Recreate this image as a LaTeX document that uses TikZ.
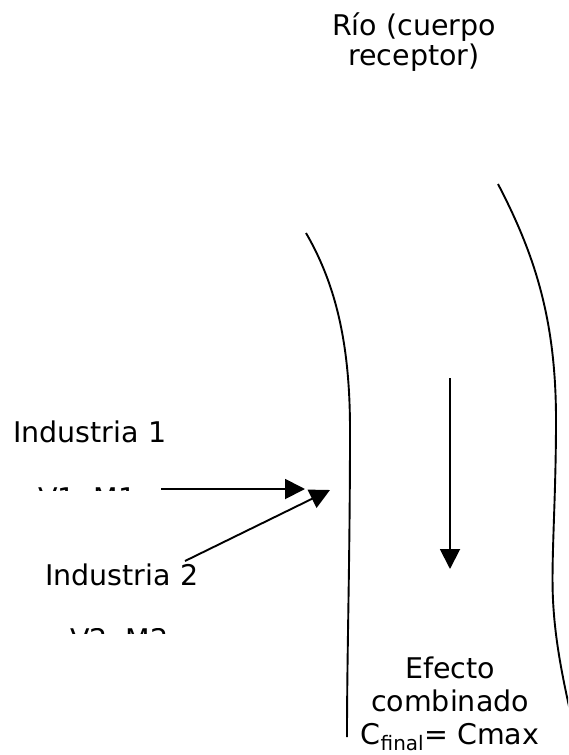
\documentclass[tikz,border=0pt]{standalone}
\usepackage{fontspec}
\setmainfont{DejaVu Sans}
\usetikzlibrary{arrows.meta}
\begin{document}
\begin{tikzpicture}[x=1pt,y=-1pt,
  bank/.style={line width=1.9pt},
  flow/.style={line width=1.9pt,-{Triangle[length=20pt,width=20pt]}},
  label/.style={inner sep=0pt,font=\fontsize{28.5}{30}\selectfont},
  biglabel/.style={inner sep=0pt,align=center,font=\fontsize{28.5}{33}\selectfont}]
\useasboundingbox (0,0) rectangle (568,755);
\clip (0,0) rectangle (568,755);

% river banks
\draw[bank] (306,233) .. controls (338,288) and (350,350) .. (350,430)
  .. controls (350,560) and (347,650) .. (347,737);
\draw[bank] (498,184) .. controls (535,255) and (556,320) .. (556,420)
  .. controls (556,500) and (551,560) .. (553,600)
  .. controls (555,640) and (562,675) .. (572,720);

% labels (multi-line nodes are anchored at the baseline of their last line)
\node[label,align=center,anchor=base] (rio) at (414,65) {Río (cuerpo\\receptor)};
\node[label,anchor=base west] (ind1) at (13,442) {Industria 1};
\node[label,anchor=base west] (ind2) at (45,585) {Industria 2};
\node[biglabel,anchor=base] (efecto) at (450,744) {Efecto\\combinado\\C\textsubscript{final}= Cmax};

% flow and inputs
\coordinate (flowtop) at (450,378);
\coordinate (flowend) at (450,569);
\draw[flow] (flowtop) -- (flowend);
\coordinate (in1start) at (161,489);
\coordinate (in1end) at (305,489);
\draw[flow] (in1start) -- (in1end);
\coordinate (in2start) at (185,561);
\coordinate (in2end) at (330,490);
\draw[flow] (in2start) -- (in2end);

% flow and load labels, cut off at their top edge
\begin{scope}
  \clip (30,486) rectangle (200,490.5);
  \node[label,anchor=base west] (vm1) at (38,508) {V1, M1};
\end{scope}
\begin{scope}
  \clip (60,628.5) rectangle (200,633);
  \node[label,anchor=base west] (vm2) at (70,649.5) {V2, M2};
\end{scope}
\end{tikzpicture}
\end{document}
